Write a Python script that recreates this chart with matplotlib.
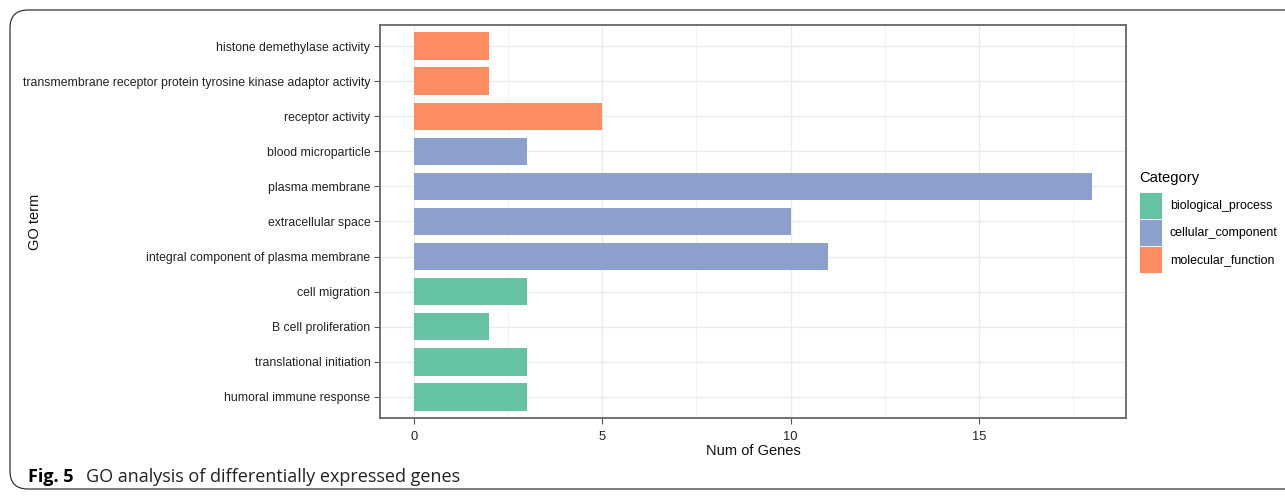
import matplotlib
matplotlib.use("Agg")
import matplotlib.pyplot as plt
from matplotlib.patches import FancyBboxPatch, Patch
from matplotlib import font_manager

terms = ["humoral immune response", "translational initiation", "B cell proliferation",
         "cell migration", "integral component of plasma membrane", "extracellular space",
         "plasma membrane", "blood microparticle", "receptor activity",
         "transmembrane receptor protein tyrosine kinase adaptor activity",
         "histone demethylase activity"]
counts = [3, 3, 2, 3, 11, 10, 18, 3, 5, 2, 2]
cats = ["biological_process"] * 4 + ["cellular_component"] * 4 + ["molecular_function"] * 3
cat_names = ["biological_process", "cellular_component", "molecular_function"]
cat_colors = {"biological_process": "#66C2A5", "cellular_component": "#8DA0CB",
              "molecular_function": "#FC8D62"}
xticks = [0, 5, 10, 15]

names = {f.name for f in font_manager.fontManager.ttflist}
narrow = "Liberation Sans Narrow" if "Liberation Sans Narrow" in names else "Liberation Sans"
plt.rcParams['font.family'] = [narrow, 'DejaVu Sans']

fig = plt.figure(figsize=(12.85, 4.97), dpi=100)
W, H = 1285, 497
renderer = fig.canvas.get_renderer()


def fit_size(text, target_px, base=10.0):
    t = fig.text(0, 0, text, fontsize=base)
    w = t.get_window_extent(renderer).width
    t.remove()
    return base * target_px / w


tick_fs = fit_size(terms[9], 347)
leg_fs = fit_size("cellular_component", 108)
title_fs = fit_size("Num of Genes", 95)
cat_fs = fit_size("Category", 60)

frame = FancyBboxPatch((10 / W, 8 / H), 1.2, (489 - 10) / H,
                       boxstyle="round,pad=0,rounding_size=0.014",
                       transform=fig.transFigure, facecolor="none",
                       edgecolor="#333333", linewidth=0.9, mutation_aspect=W / H)
fig.patches.append(frame)

ax = fig.add_axes([380 / W, 1 - 418 / H, (1126 - 380) / W, (418 - 25) / H])
ypos = list(range(len(terms)))
ax.barh(ypos, counts, height=0.78, color=[cat_colors[c] for c in cats], zorder=3)
ax.set_xlim(-0.9, 18.9)
ax.set_ylim(-0.6, len(terms) - 1 + 0.6)
ax.set_yticks(ypos)
ax.set_yticklabels(terms, fontsize=tick_fs, color="#222222")
ax.set_xticks(xticks)
ax.set_xticks([2.5, 7.5, 12.5, 17.5], minor=True)
ax.set_xticklabels([str(t) for t in xticks], fontsize=tick_fs * 1.05, color="#222222")
ax.grid(True, which="major", color="#EBEBEB", linewidth=1.0, zorder=0)
ax.grid(True, which="minor", axis="x", color="#F2F2F2", linewidth=0.7, zorder=0)
ax.tick_params(axis="both", which="major", length=4, color="#555555", width=0.8, pad=3)
ax.tick_params(axis="x", which="minor", length=0)
ax.tick_params(axis="x", which="major", pad=5)
for s in ax.spines.values():
    s.set_color("#666666")
    s.set_linewidth(1.3)
ax.set_xlabel("Num of Genes", fontsize=title_fs, color="#111111", labelpad=1)
ax.set_ylabel("GO term", fontsize=title_fs, color="#111111")
ax.yaxis.set_label_coords(-(380 - 42) / (1126 - 380), 0.5)

px = leg_fs * 100 / 72
hh = (27 / px - 0.245) / 0.65
handles = [Patch(facecolor=cat_colors[c], edgecolor="white", linewidth=0.6, label=c)
           for c in cat_names]
leg = fig.legend(handles=handles, title="Category", loc="upper left",
                 bbox_to_anchor=(1139 / W, 1 - 171 / H), frameon=False,
                 borderpad=0, borderaxespad=0,
                 fontsize=leg_fs, title_fontsize=cat_fs,
                 handlelength=23 / px, handleheight=hh, handletextpad=8 / px,
                 labelspacing=0, alignment="left")
leg._legend_box.sep = 5

fig.text(28 / W, 1 - 477 / H, "Fig. 5", fontsize=13, fontweight="bold",
         family=["Open Sans", "DejaVu Sans"], va="center", ha="left")
fig.text(86 / W, 1 - 477 / H, "GO analysis of differentially expressed genes",
         fontsize=13, family=["Open Sans", "DejaVu Sans"], va="center", ha="left",
         color="#222222")

fig.savefig("out.png", dpi=100)
